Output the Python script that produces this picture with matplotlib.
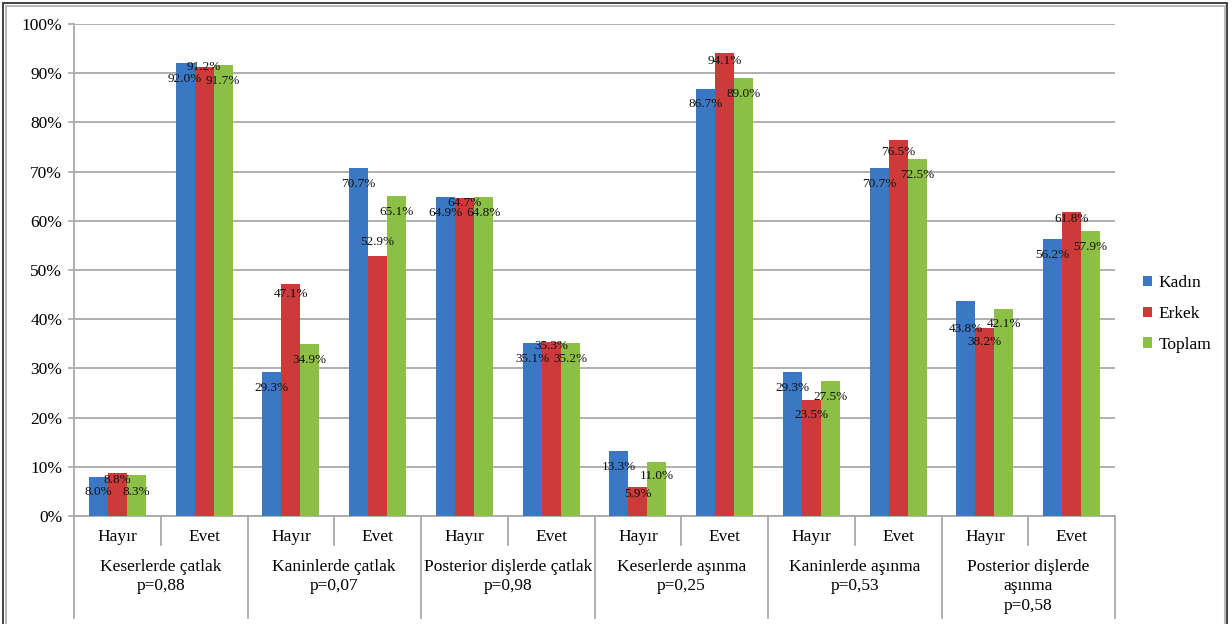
import matplotlib
matplotlib.use("Agg")
import matplotlib.pyplot as plt
from matplotlib.lines import Line2D
from matplotlib.patches import Rectangle
import numpy as np

# data
answers = ["Hayır", "Evet"] * 6
groups = ["Keserlerde çatlak\np=0,88",
          "Kaninlerde çatlak\np=0,07",
          "Posterior dişlerde çatlak\np=0,98",
          "Keserlerde aşınma\np=0,25",
          "Kaninlerde aşınma\np=0,53",
          "Posterior dişlerde\naşınma\np=0,58"]
series_names = ["Kadın", "Erkek", "Toplam"]
kadin = [8.0, 92.0, 29.3, 70.7, 64.9, 35.1, 13.3, 86.7, 29.3, 70.7, 43.8, 56.2]
erkek = [8.8, 91.2, 47.1, 52.9, 64.7, 35.3, 5.9, 94.1, 23.5, 76.5, 38.2, 61.8]
toplam = [8.3, 91.7, 34.9, 65.1, 64.8, 35.2, 11.0, 89.0, 27.5, 72.5, 42.1, 57.9]
y_ticks = [0, 10, 20, 30, 40, 50, 60, 70, 80, 90, 100]

# label drop below bar top, in pixels (as placed in the original)
shift_kadin = [15, 16, 16, 16, 16, 16, 16, 15, 16, 16, 28, 16]
shift_erkek = [7, 0, 10, -14, 5, 4, 7, 8, 15, 12, 14, 7]
shift_toplam = [17, 16, 16, 16, 16, 16, 14, 16, 16, 16, 15, 16]

colors = ["#3B78C4", "#CC3A3A", "#8CBF45"]
grid_c = "#A9A9A9"
serif = "Liberation Serif"

W, H = 1232, 624
fig = plt.figure(figsize=(W / 100, H / 100), dpi=100)
x0, x1, ytop, ybot = 74, 1115, 24, 516
ax = fig.add_axes([x0 / W, 1 - ybot / H, (x1 - x0) / W, (ybot - ytop) / H])

n = len(answers)
x = np.arange(n)
bw = 0.219
all_vals = [kadin, erkek, toplam]
all_shift = [shift_kadin, shift_erkek, shift_toplam]
for i, (vals, name, col) in enumerate(zip(all_vals, series_names, colors)):
    xs = x + (i - 1) * bw
    ax.bar(xs, vals, width=bw, color=col, label=name, zorder=3)
    for xx, v, s in zip(xs, vals, all_shift[i]):
        ax.annotate(f"{v:.1f}%", xy=(xx, v), xytext=(0, -s * 0.72),
                    textcoords="offset points", ha="center", va="center",
                    fontsize=9.5, family=serif, color="#111111", zorder=5)

ax.set_xlim(-0.5, n - 0.5)
ax.set_ylim(0, 100)
ax.set_yticks(y_ticks)
ax.set_yticklabels([f"{t}%" for t in y_ticks], family=serif, fontsize=12.5)
ax.yaxis.grid(True, color=grid_c, linewidth=1.3, zorder=0)
ax.tick_params(axis="y", length=4.5, color=grid_c, width=1.2, pad=4)
ax.set_xticks([])
for sp in ["top", "right"]:
    ax.spines[sp].set_visible(False)
ax.spines["left"].set_color(grid_c)
ax.spines["left"].set_linewidth(1.3)
ax.spines["bottom"].set_color(grid_c)
ax.spines["bottom"].set_linewidth(1.3)

# multi-level category axis
tr = ax.get_xaxis_transform()
ph = ybot - ytop


def fy(py):
    return (ybot - py) / ph


for i, a in enumerate(answers):
    ax.text(i, fy(537), a, transform=tr, ha="center", va="center",
            fontsize=12.5, family=serif)
for k in range(n + 1):
    long_line = (k % 2 == 0)
    yend = fy(618) if long_line else fy(545)
    ax.add_line(Line2D([k - 0.5, k - 0.5], [0, yend], transform=tr,
                       color=grid_c, linewidth=1.3, clip_on=False))
for g, lab in enumerate(groups):
    for j, line in enumerate(lab.split("\n")):
        ax.text(2 * g + 0.5, fy(567 + 19.5 * j), line, transform=tr,
                ha="center", va="center", fontsize=12.5, family=serif)

fig.legend(loc="center left", bbox_to_anchor=(1127 / W, 1 - 314 / H),
           frameon=False, prop={"family": serif, "size": 12.5},
           handlelength=0.55, handleheight=0.55, handletextpad=0.35,
           labelspacing=0.85)

# outer frame
fig.add_artist(Rectangle((3 / W, -0.05), 1224 / W, 1.05 - 3 / H,
                         transform=fig.transFigure, fill=False,
                         edgecolor="#222222", linewidth=1.2))
fig.add_artist(Rectangle((6 / W, -0.05), 1219 / W, 1.05 - 6 / H,
                         transform=fig.transFigure, fill=False,
                         edgecolor="#BBBBBB", linewidth=1.5))

fig.savefig("out.png", dpi=100)
